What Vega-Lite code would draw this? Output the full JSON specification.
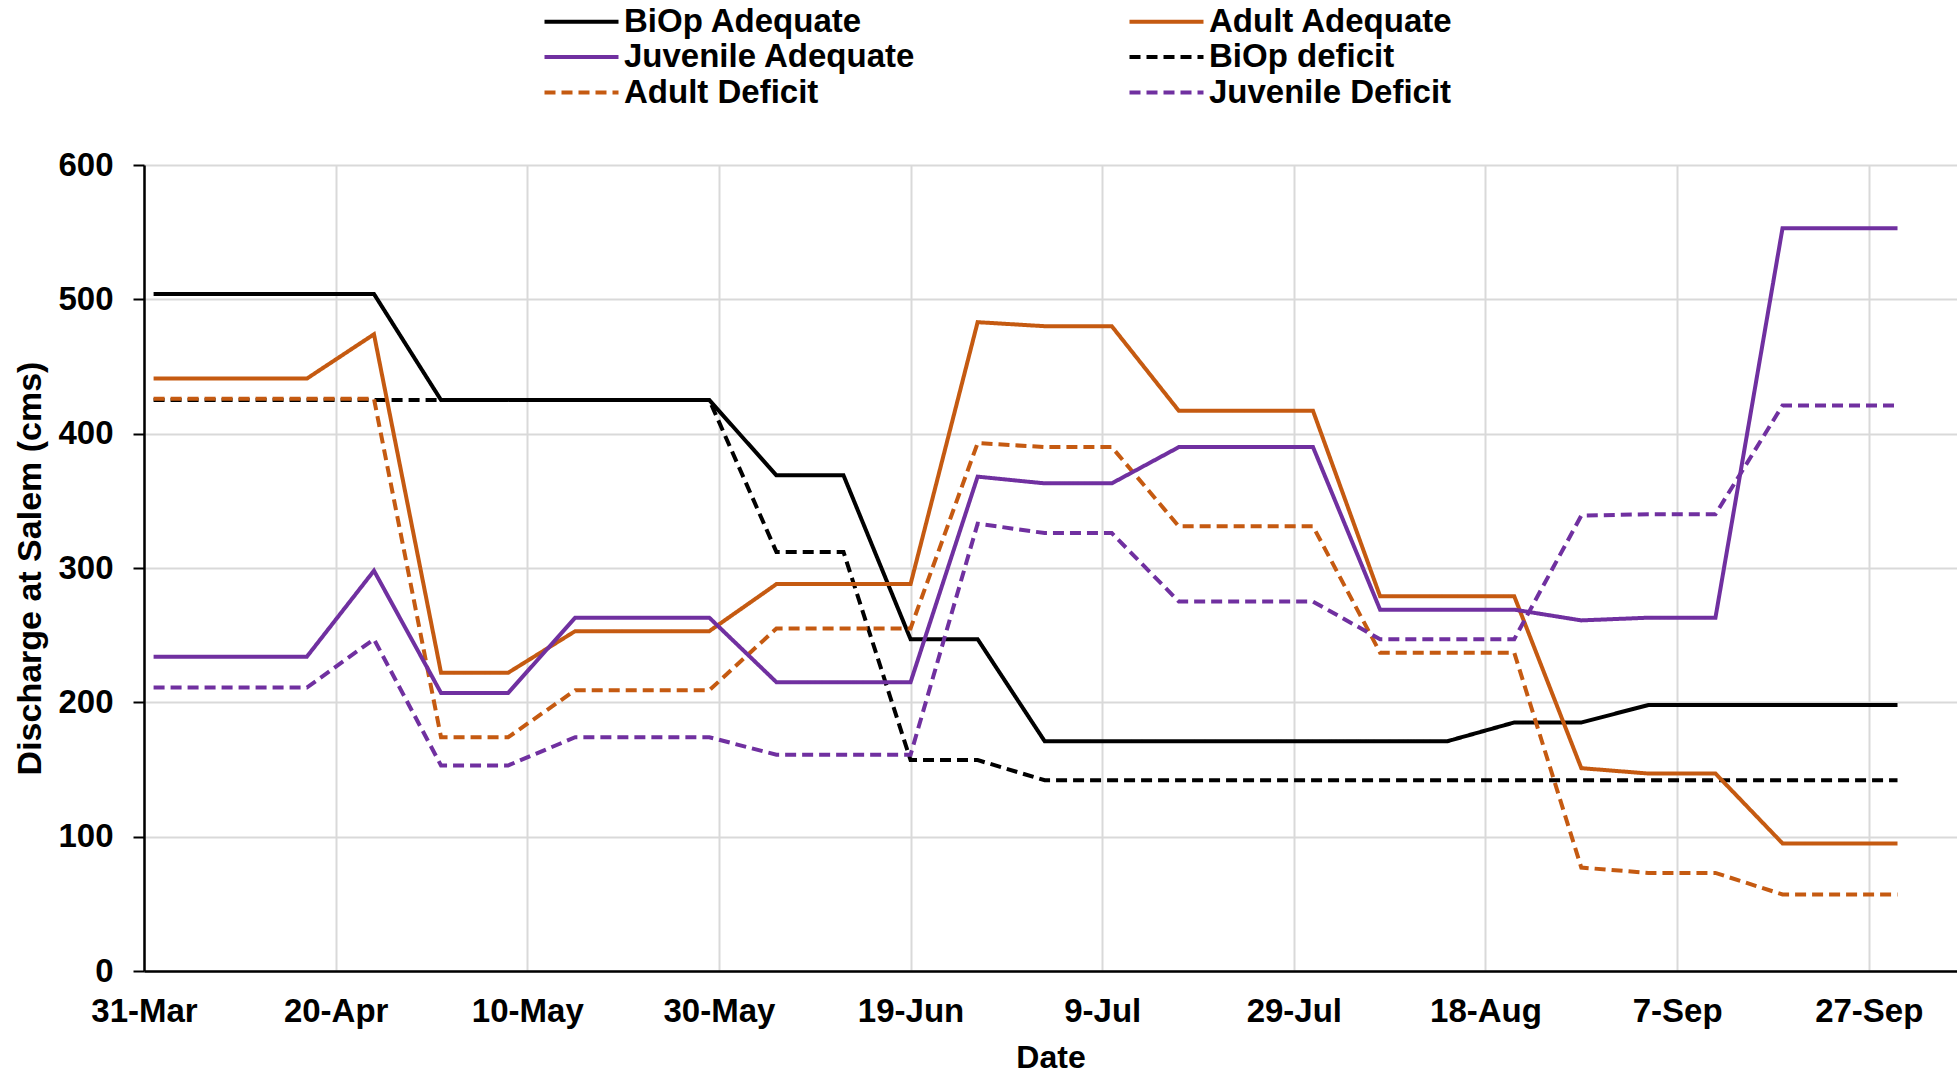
{
  "$schema": "https://vega.github.io/schema/vega-lite/v6.json",
  "width": 1813,
  "height": 806,
  "autosize": {"type": "none"},
  "padding": {"left": 144, "top": 165, "right": 0, "bottom": 105},
  "background": "white",
  "config": {
    "font": "Liberation Sans",
    "view": {"stroke": null},
    "legend": {
      "title": null,
      "orient": "none",
      "legendX": 421,
      "legendY": -160,
      "columns": 2,
      "columnPadding": 205,
      "rowPadding": 1.5,
      "symbolType": "M-3.7,0H3.7",
      "symbolSize": 400,
      "symbolStrokeWidth": 4,
      "labelFont": "Liberation Sans",
      "labelFontSize": 33,
      "labelFontWeight": "bold",
      "labelColor": "black",
      "labelOffset": 26,
      "labelLimit": 500
    }
  },
  "data": {
    "values": [
      {"date": "2019/04/01", "series": "BiOp Adequate", "cms": 504},
      {"date": "2019/04/10", "series": "BiOp Adequate", "cms": 504},
      {"date": "2019/04/17", "series": "BiOp Adequate", "cms": 504},
      {"date": "2019/04/24", "series": "BiOp Adequate", "cms": 504},
      {"date": "2019/05/01", "series": "BiOp Adequate", "cms": 425},
      {"date": "2019/05/08", "series": "BiOp Adequate", "cms": 425},
      {"date": "2019/05/15", "series": "BiOp Adequate", "cms": 425},
      {"date": "2019/05/22", "series": "BiOp Adequate", "cms": 425},
      {"date": "2019/05/29", "series": "BiOp Adequate", "cms": 425},
      {"date": "2019/06/05", "series": "BiOp Adequate", "cms": 369},
      {"date": "2019/06/12", "series": "BiOp Adequate", "cms": 369},
      {"date": "2019/06/19", "series": "BiOp Adequate", "cms": 247},
      {"date": "2019/06/26", "series": "BiOp Adequate", "cms": 247},
      {"date": "2019/07/03", "series": "BiOp Adequate", "cms": 171},
      {"date": "2019/07/10", "series": "BiOp Adequate", "cms": 171},
      {"date": "2019/07/17", "series": "BiOp Adequate", "cms": 171},
      {"date": "2019/07/24", "series": "BiOp Adequate", "cms": 171},
      {"date": "2019/07/31", "series": "BiOp Adequate", "cms": 171},
      {"date": "2019/08/07", "series": "BiOp Adequate", "cms": 171},
      {"date": "2019/08/14", "series": "BiOp Adequate", "cms": 171},
      {"date": "2019/08/21", "series": "BiOp Adequate", "cms": 185},
      {"date": "2019/08/28", "series": "BiOp Adequate", "cms": 185},
      {"date": "2019/09/04", "series": "BiOp Adequate", "cms": 198},
      {"date": "2019/09/11", "series": "BiOp Adequate", "cms": 198},
      {"date": "2019/09/18", "series": "BiOp Adequate", "cms": 198},
      {"date": "2019/09/25", "series": "BiOp Adequate", "cms": 198},
      {"date": "2019/09/30", "series": "BiOp Adequate", "cms": 198},

      {"date": "2019/04/01", "series": "BiOp deficit", "cms": 425},
      {"date": "2019/04/10", "series": "BiOp deficit", "cms": 425},
      {"date": "2019/04/17", "series": "BiOp deficit", "cms": 425},
      {"date": "2019/04/24", "series": "BiOp deficit", "cms": 425},
      {"date": "2019/05/01", "series": "BiOp deficit", "cms": 425},
      {"date": "2019/05/08", "series": "BiOp deficit", "cms": 425},
      {"date": "2019/05/15", "series": "BiOp deficit", "cms": 425},
      {"date": "2019/05/22", "series": "BiOp deficit", "cms": 425},
      {"date": "2019/05/29", "series": "BiOp deficit", "cms": 425},
      {"date": "2019/06/05", "series": "BiOp deficit", "cms": 312},
      {"date": "2019/06/12", "series": "BiOp deficit", "cms": 312},
      {"date": "2019/06/19", "series": "BiOp deficit", "cms": 157},
      {"date": "2019/06/26", "series": "BiOp deficit", "cms": 157},
      {"date": "2019/07/03", "series": "BiOp deficit", "cms": 142},
      {"date": "2019/07/10", "series": "BiOp deficit", "cms": 142},
      {"date": "2019/07/17", "series": "BiOp deficit", "cms": 142},
      {"date": "2019/07/24", "series": "BiOp deficit", "cms": 142},
      {"date": "2019/07/31", "series": "BiOp deficit", "cms": 142},
      {"date": "2019/08/07", "series": "BiOp deficit", "cms": 142},
      {"date": "2019/08/14", "series": "BiOp deficit", "cms": 142},
      {"date": "2019/08/21", "series": "BiOp deficit", "cms": 142},
      {"date": "2019/08/28", "series": "BiOp deficit", "cms": 142},
      {"date": "2019/09/04", "series": "BiOp deficit", "cms": 142},
      {"date": "2019/09/11", "series": "BiOp deficit", "cms": 142},
      {"date": "2019/09/18", "series": "BiOp deficit", "cms": 142},
      {"date": "2019/09/25", "series": "BiOp deficit", "cms": 142},
      {"date": "2019/09/30", "series": "BiOp deficit", "cms": 142},

      {"date": "2019/04/01", "series": "Adult Adequate", "cms": 441},
      {"date": "2019/04/10", "series": "Adult Adequate", "cms": 441},
      {"date": "2019/04/17", "series": "Adult Adequate", "cms": 441},
      {"date": "2019/04/24", "series": "Adult Adequate", "cms": 474},
      {"date": "2019/05/01", "series": "Adult Adequate", "cms": 222},
      {"date": "2019/05/08", "series": "Adult Adequate", "cms": 222},
      {"date": "2019/05/15", "series": "Adult Adequate", "cms": 253},
      {"date": "2019/05/22", "series": "Adult Adequate", "cms": 253},
      {"date": "2019/05/29", "series": "Adult Adequate", "cms": 253},
      {"date": "2019/06/05", "series": "Adult Adequate", "cms": 288},
      {"date": "2019/06/12", "series": "Adult Adequate", "cms": 288},
      {"date": "2019/06/19", "series": "Adult Adequate", "cms": 288},
      {"date": "2019/06/26", "series": "Adult Adequate", "cms": 483},
      {"date": "2019/07/03", "series": "Adult Adequate", "cms": 480},
      {"date": "2019/07/10", "series": "Adult Adequate", "cms": 480},
      {"date": "2019/07/17", "series": "Adult Adequate", "cms": 417},
      {"date": "2019/07/24", "series": "Adult Adequate", "cms": 417},
      {"date": "2019/07/31", "series": "Adult Adequate", "cms": 417},
      {"date": "2019/08/07", "series": "Adult Adequate", "cms": 279},
      {"date": "2019/08/14", "series": "Adult Adequate", "cms": 279},
      {"date": "2019/08/21", "series": "Adult Adequate", "cms": 279},
      {"date": "2019/08/28", "series": "Adult Adequate", "cms": 151},
      {"date": "2019/09/04", "series": "Adult Adequate", "cms": 147},
      {"date": "2019/09/11", "series": "Adult Adequate", "cms": 147},
      {"date": "2019/09/18", "series": "Adult Adequate", "cms": 95},
      {"date": "2019/09/25", "series": "Adult Adequate", "cms": 95},
      {"date": "2019/09/30", "series": "Adult Adequate", "cms": 95},

      {"date": "2019/04/01", "series": "Adult Deficit", "cms": 426},
      {"date": "2019/04/10", "series": "Adult Deficit", "cms": 426},
      {"date": "2019/04/17", "series": "Adult Deficit", "cms": 426},
      {"date": "2019/04/24", "series": "Adult Deficit", "cms": 426},
      {"date": "2019/05/01", "series": "Adult Deficit", "cms": 174},
      {"date": "2019/05/08", "series": "Adult Deficit", "cms": 174},
      {"date": "2019/05/15", "series": "Adult Deficit", "cms": 209},
      {"date": "2019/05/22", "series": "Adult Deficit", "cms": 209},
      {"date": "2019/05/29", "series": "Adult Deficit", "cms": 209},
      {"date": "2019/06/05", "series": "Adult Deficit", "cms": 255},
      {"date": "2019/06/12", "series": "Adult Deficit", "cms": 255},
      {"date": "2019/06/19", "series": "Adult Deficit", "cms": 255},
      {"date": "2019/06/26", "series": "Adult Deficit", "cms": 393},
      {"date": "2019/07/03", "series": "Adult Deficit", "cms": 390},
      {"date": "2019/07/10", "series": "Adult Deficit", "cms": 390},
      {"date": "2019/07/17", "series": "Adult Deficit", "cms": 331},
      {"date": "2019/07/24", "series": "Adult Deficit", "cms": 331},
      {"date": "2019/07/31", "series": "Adult Deficit", "cms": 331},
      {"date": "2019/08/07", "series": "Adult Deficit", "cms": 237},
      {"date": "2019/08/14", "series": "Adult Deficit", "cms": 237},
      {"date": "2019/08/21", "series": "Adult Deficit", "cms": 237},
      {"date": "2019/08/28", "series": "Adult Deficit", "cms": 77},
      {"date": "2019/09/04", "series": "Adult Deficit", "cms": 73},
      {"date": "2019/09/11", "series": "Adult Deficit", "cms": 73},
      {"date": "2019/09/18", "series": "Adult Deficit", "cms": 57},
      {"date": "2019/09/25", "series": "Adult Deficit", "cms": 57},
      {"date": "2019/09/30", "series": "Adult Deficit", "cms": 57},

      {"date": "2019/04/01", "series": "Juvenile Adequate", "cms": 234},
      {"date": "2019/04/10", "series": "Juvenile Adequate", "cms": 234},
      {"date": "2019/04/17", "series": "Juvenile Adequate", "cms": 234},
      {"date": "2019/04/24", "series": "Juvenile Adequate", "cms": 298},
      {"date": "2019/05/01", "series": "Juvenile Adequate", "cms": 207},
      {"date": "2019/05/08", "series": "Juvenile Adequate", "cms": 207},
      {"date": "2019/05/15", "series": "Juvenile Adequate", "cms": 263},
      {"date": "2019/05/22", "series": "Juvenile Adequate", "cms": 263},
      {"date": "2019/05/29", "series": "Juvenile Adequate", "cms": 263},
      {"date": "2019/06/05", "series": "Juvenile Adequate", "cms": 215},
      {"date": "2019/06/12", "series": "Juvenile Adequate", "cms": 215},
      {"date": "2019/06/19", "series": "Juvenile Adequate", "cms": 215},
      {"date": "2019/06/26", "series": "Juvenile Adequate", "cms": 368},
      {"date": "2019/07/03", "series": "Juvenile Adequate", "cms": 363},
      {"date": "2019/07/10", "series": "Juvenile Adequate", "cms": 363},
      {"date": "2019/07/17", "series": "Juvenile Adequate", "cms": 390},
      {"date": "2019/07/24", "series": "Juvenile Adequate", "cms": 390},
      {"date": "2019/07/31", "series": "Juvenile Adequate", "cms": 390},
      {"date": "2019/08/07", "series": "Juvenile Adequate", "cms": 269},
      {"date": "2019/08/14", "series": "Juvenile Adequate", "cms": 269},
      {"date": "2019/08/21", "series": "Juvenile Adequate", "cms": 269},
      {"date": "2019/08/28", "series": "Juvenile Adequate", "cms": 261},
      {"date": "2019/09/04", "series": "Juvenile Adequate", "cms": 263},
      {"date": "2019/09/11", "series": "Juvenile Adequate", "cms": 263},
      {"date": "2019/09/18", "series": "Juvenile Adequate", "cms": 553},
      {"date": "2019/09/25", "series": "Juvenile Adequate", "cms": 553},
      {"date": "2019/09/30", "series": "Juvenile Adequate", "cms": 553},

      {"date": "2019/04/01", "series": "Juvenile Deficit", "cms": 211},
      {"date": "2019/04/10", "series": "Juvenile Deficit", "cms": 211},
      {"date": "2019/04/17", "series": "Juvenile Deficit", "cms": 211},
      {"date": "2019/04/24", "series": "Juvenile Deficit", "cms": 247},
      {"date": "2019/05/01", "series": "Juvenile Deficit", "cms": 153},
      {"date": "2019/05/08", "series": "Juvenile Deficit", "cms": 153},
      {"date": "2019/05/15", "series": "Juvenile Deficit", "cms": 174},
      {"date": "2019/05/22", "series": "Juvenile Deficit", "cms": 174},
      {"date": "2019/05/29", "series": "Juvenile Deficit", "cms": 174},
      {"date": "2019/06/05", "series": "Juvenile Deficit", "cms": 161},
      {"date": "2019/06/12", "series": "Juvenile Deficit", "cms": 161},
      {"date": "2019/06/19", "series": "Juvenile Deficit", "cms": 161},
      {"date": "2019/06/26", "series": "Juvenile Deficit", "cms": 333},
      {"date": "2019/07/03", "series": "Juvenile Deficit", "cms": 326},
      {"date": "2019/07/10", "series": "Juvenile Deficit", "cms": 326},
      {"date": "2019/07/17", "series": "Juvenile Deficit", "cms": 275},
      {"date": "2019/07/24", "series": "Juvenile Deficit", "cms": 275},
      {"date": "2019/07/31", "series": "Juvenile Deficit", "cms": 275},
      {"date": "2019/08/07", "series": "Juvenile Deficit", "cms": 247},
      {"date": "2019/08/14", "series": "Juvenile Deficit", "cms": 247},
      {"date": "2019/08/21", "series": "Juvenile Deficit", "cms": 247},
      {"date": "2019/08/28", "series": "Juvenile Deficit", "cms": 339},
      {"date": "2019/09/04", "series": "Juvenile Deficit", "cms": 340},
      {"date": "2019/09/11", "series": "Juvenile Deficit", "cms": 340},
      {"date": "2019/09/18", "series": "Juvenile Deficit", "cms": 421},
      {"date": "2019/09/25", "series": "Juvenile Deficit", "cms": 421},
      {"date": "2019/09/30", "series": "Juvenile Deficit", "cms": 421}
    ]
  },
  "mark": {"type": "line", "strokeWidth": 4, "strokeCap": "butt", "strokeJoin": "miter", "clip": true},
  "encoding": {
    "x": {
      "field": "date",
      "type": "temporal",
      "scale": {
        "domain": [
          {"year": 2019, "month": 3, "date": 31},
          {"year": 2019, "month": 10, "date": 6, "hours": 5}
        ]
      },
      "axis": {
        "title": "Date",
        "titleFont": "Liberation Sans",
        "titleFontSize": 32,
        "titleFontWeight": "bold",
        "titleColor": "black",
        "titlePadding": 14,
        "values": [
          {"year": 2019, "month": 3, "date": 31},
          {"year": 2019, "month": 4, "date": 20},
          {"year": 2019, "month": 5, "date": 10},
          {"year": 2019, "month": 5, "date": 30},
          {"year": 2019, "month": 6, "date": 19},
          {"year": 2019, "month": 7, "date": 9},
          {"year": 2019, "month": 7, "date": 29},
          {"year": 2019, "month": 8, "date": 18},
          {"year": 2019, "month": 9, "date": 7},
          {"year": 2019, "month": 9, "date": 27}
        ],
        "format": "%-d-%b",
        "labelFont": "Liberation Sans",
        "labelFontSize": 33,
        "labelFontWeight": "bold",
        "labelColor": "black",
        "labelPadding": 24,
        "labelOverlap": false,
        "labelFlush": false,
        "ticks": false,
        "domainColor": "black",
        "domainWidth": 2.5,
        "grid": true,
        "gridColor": "#d9d9d9",
        "gridWidth": 2
      }
    },
    "y": {
      "field": "cms",
      "type": "quantitative",
      "scale": {"domain": [0, 600], "nice": false},
      "axis": {
        "title": "Discharge at Salem (cms)",
        "titleFont": "Liberation Sans",
        "titleFontSize": 34,
        "titleFontWeight": "bold",
        "titleColor": "black",
        "titlePadding": 10,
        "values": [0, 100, 200, 300, 400, 500, 600],
        "labelFont": "Liberation Sans",
        "labelFontSize": 33,
        "labelFontWeight": "bold",
        "labelColor": "black",
        "labelPadding": 20,
        "tickSize": 11,
        "tickWidth": 2,
        "tickColor": "black",
        "domainColor": "black",
        "domainWidth": 2.5,
        "grid": true,
        "gridColor": "#d9d9d9",
        "gridWidth": 2
      }
    },
    "color": {
      "field": "series",
      "type": "nominal",
      "scale": {
        "domain": ["BiOp Adequate", "Juvenile Adequate", "Adult Deficit", "Adult Adequate", "BiOp deficit", "Juvenile Deficit"],
        "range": ["#000000", "#7030A0", "#C55A11", "#C55A11", "#000000", "#7030A0"]
      }
    },
    "strokeDash": {
      "field": "series",
      "type": "nominal",
      "scale": {
        "domain": ["BiOp Adequate", "Juvenile Adequate", "Adult Deficit", "Adult Adequate", "BiOp deficit", "Juvenile Deficit"],
        "range": [[1, 0], [1, 0], [11, 6], [1, 0], [11, 6], [11, 6]]
      }
    }
  }
}
